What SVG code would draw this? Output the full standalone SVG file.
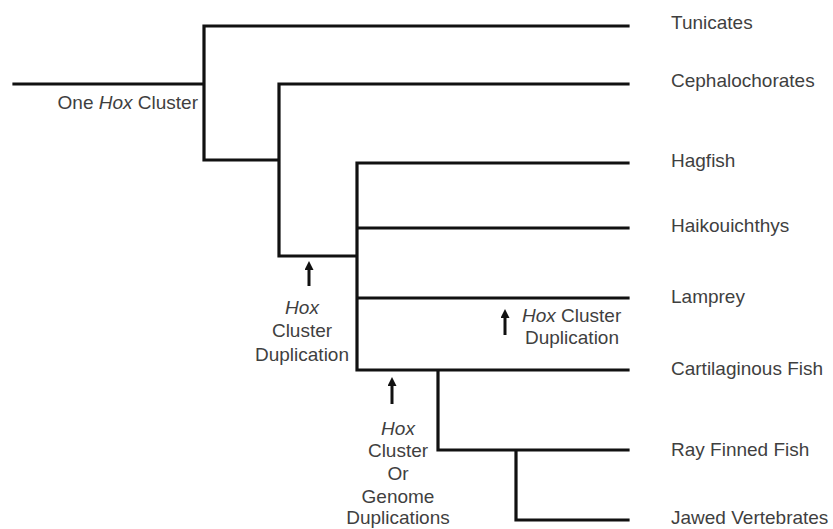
<svg xmlns="http://www.w3.org/2000/svg" width="833" height="529" viewBox="0 0 833 529">
<style>
.br{stroke:#111;stroke-width:3.2;fill:none;stroke-linecap:square}
.t{font-family:"Liberation Sans",Arial,sans-serif;font-size:19px;fill:#3f3f3f}
.i{font-style:italic}
.ar{stroke:#111;stroke-width:3;fill:none}
</style>
<defs>
<marker id="ah" markerWidth="10" markerHeight="10" refX="2" refY="4.5" orient="auto" markerUnits="userSpaceOnUse"><path d="M0,0 L9,4.5 L0,9 Z" fill="#111"/></marker>
</defs>
<rect width="833" height="529" fill="#fff"/>
<g id="connectors">
<path class="br" d="M14,84 H204 M204,26 V160 M204,26 H628 M204,160 H279 M279,84 V256 M279,84 H628 M279,256 H357 M357,163 V370 M357,163 H628 M357,228 H628 M357,298 H628 M357,370 H628 M438,370 V450 M438,450 H628 M516,450 V520 M516,520 H628"/>
</g>
<g id="taxa">
<text class="t" x="671" y="29">Tunicates</text>
<text class="t" x="671" y="87">Cephalochorates</text>
<text class="t" x="671" y="167">Hagfish</text>
<text class="t" x="671" y="232">Haikouichthys</text>
<text class="t" x="671" y="303">Lamprey</text>
<text class="t" x="671" y="375">Cartilaginous Fish</text>
<text class="t" x="671" y="456">Ray Finned Fish</text>
<text class="t" x="671" y="524">Jawed Vertebrates</text>
</g>
<g id="label-one-hox">
<text class="t" x="198" y="109" text-anchor="end">One <tspan class="i">Hox</tspan> Cluster</text>
</g>
<g id="event-1">
<line class="ar" x1="309" y1="286" x2="309" y2="268" marker-end="url(#ah)"/>
<text class="t i" x="302" y="314" text-anchor="middle">Hox</text>
<text class="t" x="302" y="337" text-anchor="middle">Cluster</text>
<text class="t" x="302" y="361" text-anchor="middle">Duplication</text>
</g>
<g id="event-2">
<line class="ar" x1="505" y1="335" x2="505" y2="316" marker-end="url(#ah)"/>
<text class="t" x="522" y="322"><tspan class="i">Hox</tspan> Cluster</text>
<text class="t" x="572" y="344" text-anchor="middle">Duplication</text>
</g>
<g id="event-3">
<line class="ar" x1="392" y1="404" x2="392" y2="384" marker-end="url(#ah)"/>
<text class="t i" x="398" y="435" text-anchor="middle">Hox</text>
<text class="t" x="398" y="457" text-anchor="middle">Cluster</text>
<text class="t" x="398" y="480" text-anchor="middle">Or</text>
<text class="t" x="398" y="503" text-anchor="middle">Genome</text>
<text class="t" x="398" y="524" text-anchor="middle">Duplications</text>
</g>
</svg>
